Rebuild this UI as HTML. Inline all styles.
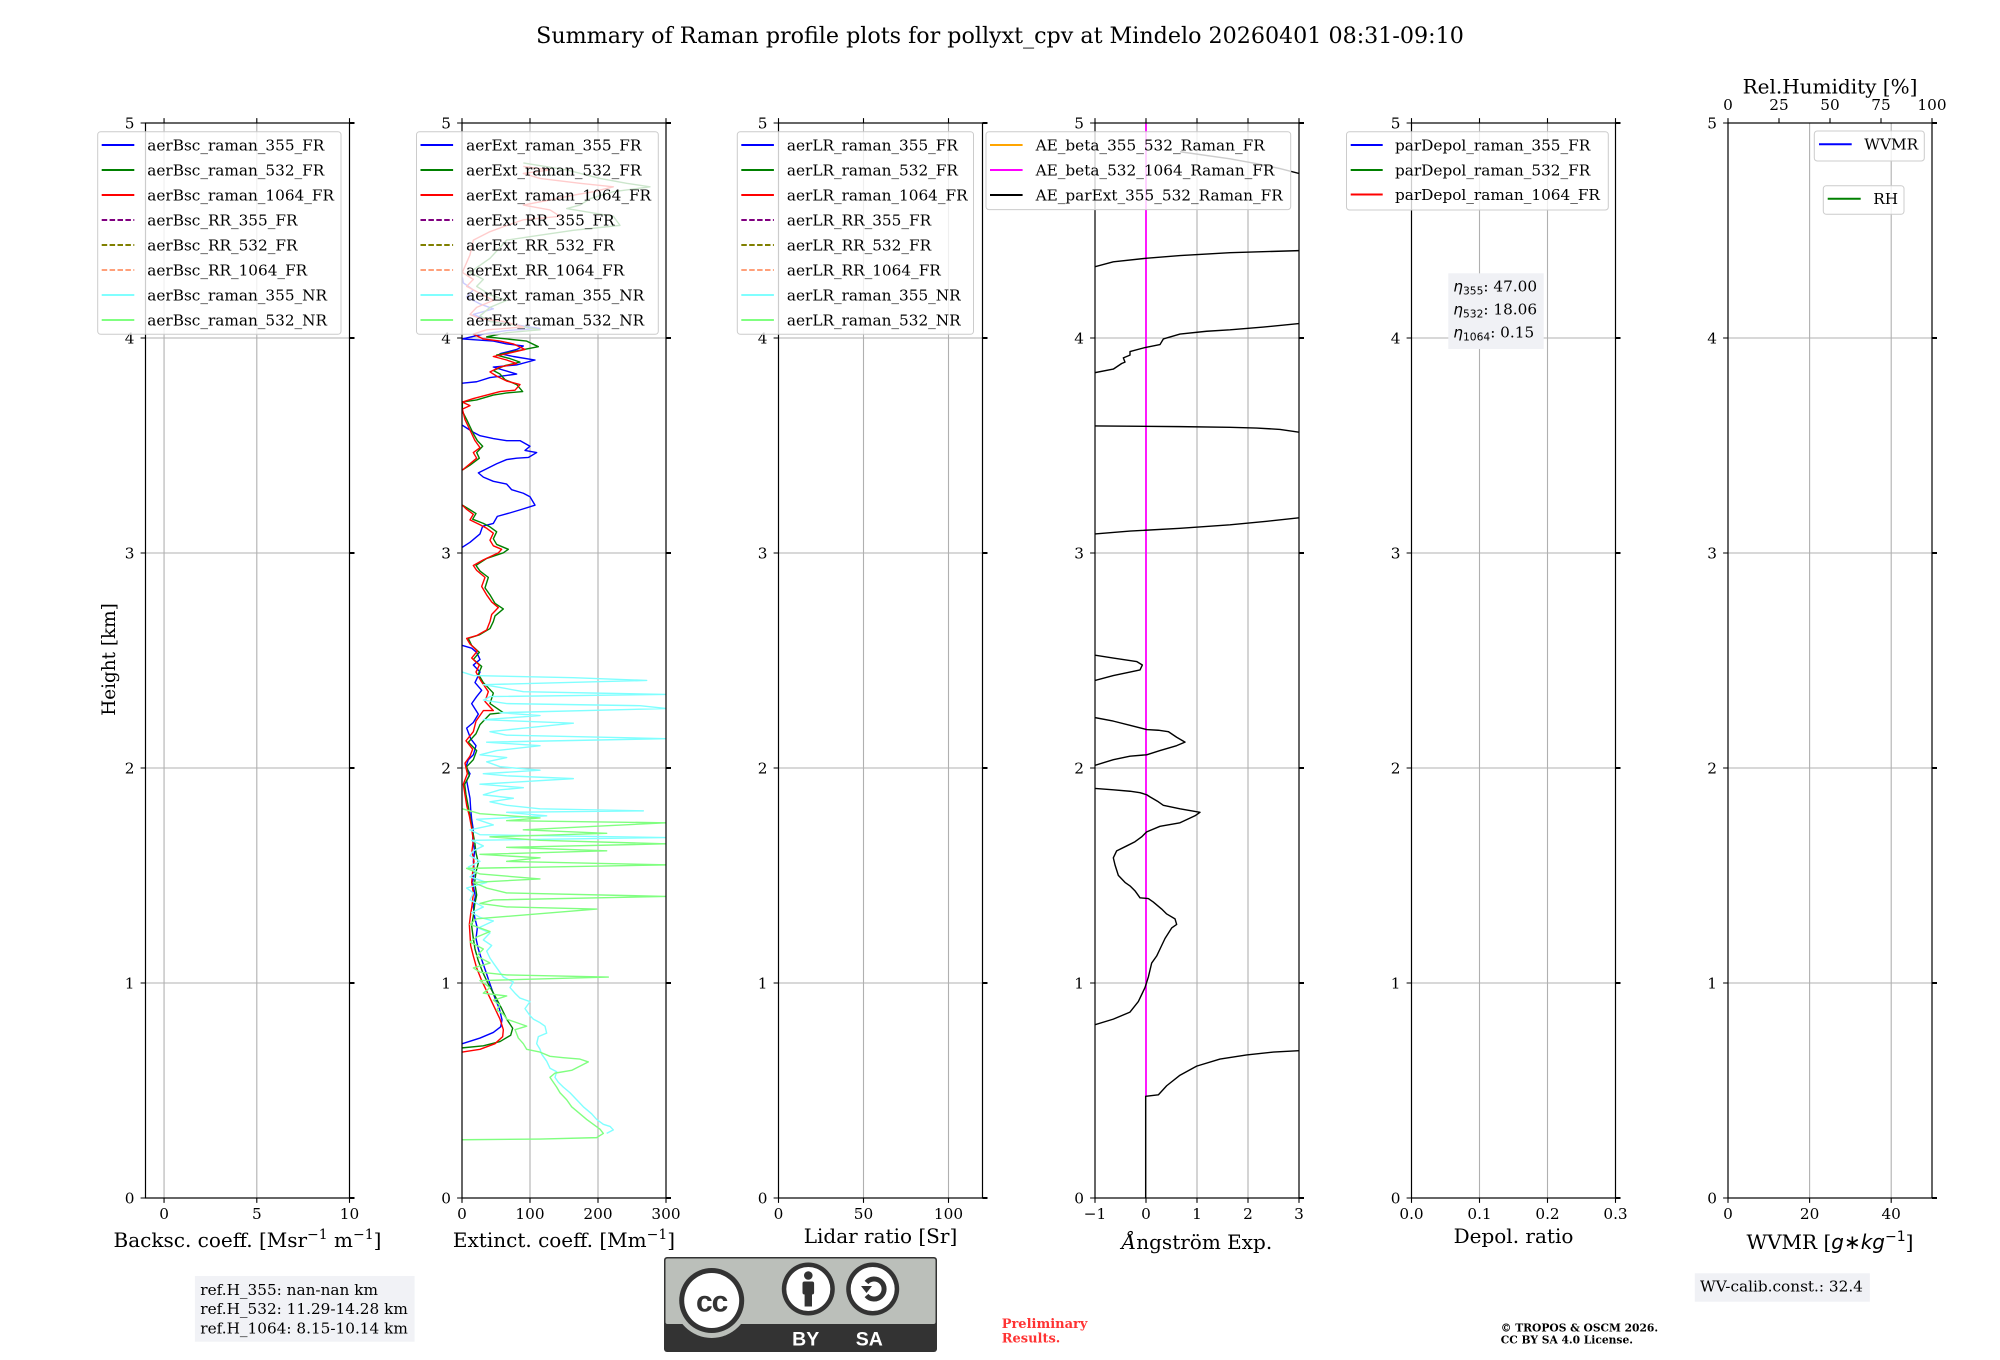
<!DOCTYPE html>
<html><head><meta charset="utf-8"><style>
html,body{margin:0;padding:0;background:#fff;}
svg{display:block;}
text{font-family:"DejaVu Serif","Liberation Serif",serif;fill:#000;}
.tk{font-size:15.28px;}
.lg{font-size:15.28px;}
.al{font-size:20px;}
</style></head><body>
<svg width="2000" height="1360" viewBox="0 0 2000 1360" xmlns="http://www.w3.org/2000/svg">
<defs>
<clipPath id="c1"><rect x="462" y="123" width="204" height="1075"/></clipPath>
<clipPath id="c3"><rect x="1095" y="123" width="204" height="1075"/></clipPath>
</defs>
<rect width="2000" height="1360" fill="#fff"/>
<text x="1000" y="43" text-anchor="middle" style="font-size:22.2px">Summary of Raman profile plots for pollyxt_cpv at Mindelo 20260401 08:31-09:10</text>

<!-- grids -->
<g stroke="#b0b0b0" stroke-width="1.1" fill="none">
<g transform="translate(145.5,0)"><path d="M0 983H204M0 768H204M0 553H204M0 338H204M18.55 123V1198M111.3 123V1198"/></g>
<g transform="translate(462,0)"><path d="M0 983H204M0 768H204M0 553H204M0 338H204M68 123V1198M136 123V1198"/></g>
<g transform="translate(778.5,0)"><path d="M0 983H204M0 768H204M0 553H204M0 338H204M85 123V1198M170 123V1198"/></g>
<g transform="translate(1095,0)"><path d="M0 983H204M0 768H204M0 553H204M0 338H204M51 123V1198M102 123V1198M153 123V1198"/></g>
<g transform="translate(1411.5,0)"><path d="M0 983H204M0 768H204M0 553H204M0 338H204M68 123V1198M136 123V1198"/></g>
<g transform="translate(1728,0)"><path d="M0 983H204M0 768H204M0 553H204M0 338H204M81.6 123V1198M163.2 123V1198"/></g>
</g>

<!-- panel 2 curves -->
<g clip-path="url(#c1)">
<g transform="translate(440,111.08) scale(0.333333,0.7012)" fill="none" stroke-width="1.4" stroke-linejoin="round">
<polyline vector-effect="non-scaling-stroke" stroke="#0000ff" points="67,1330 120,1322 160,1314 182,1306 186,1296 178,1280 165,1265 150,1245 138,1228 125,1210 115,1195 108,1180 112,1165 104,1150 100,1135 106,1120 98,1100 103,1085 100,1070 104,1055 98,1040 100,1025 95,1010 92,995 90,980 84,965 80,955 90,945 78,935 85,925 100,918 108,905 92,895 80,880 100,872 115,860 95,845 110,835 125,826 105,815 120,800 100,790 120,782 110,772 95,766 67,762"/>
<polyline vector-effect="non-scaling-stroke" stroke="#0000ff" points="67,622 90,615 120,603 128,592 160,588 172,578 210,573 245,568 285,562 270,550 250,545 215,540 200,532 160,528 130,522 115,516 140,510 170,503 200,497 230,495 265,494 290,487 255,484 270,478 240,470 200,470 160,467 120,463 100,458 80,452 67,448"/>
<polyline vector-effect="non-scaling-stroke" stroke="#0000ff" points="67,388 110,386 150,380 200,377 230,375 180,368 160,365 230,362 285,355 220,350 180,346 230,340 250,335 200,332 160,328 100,326 67,325 130,318 200,313 300,310 230,305 150,300 100,290 160,282 120,275 80,265 100,255 70,245 67,237"/>
<polyline vector-effect="non-scaling-stroke" stroke="#008000" points="67,1336 130,1333 180,1327 212,1318 218,1308 200,1295 185,1280 165,1262 145,1245 128,1228 115,1212 105,1195 100,1180 95,1162 100,1148 104,1132 110,1118 104,1100 108,1085 115,1072 108,1058 104,1042 97,1025 90,1005 84,990 78,975 74,960 88,948 80,935 100,925 110,912 85,900 108,888 120,875 150,860 190,858 150,845 160,830 130,815 115,803 125,792 100,782 118,772 95,762 85,752 118,747 150,738 160,728 165,720 190,710 165,702 150,690 135,680 145,665 120,656 108,648 140,638 190,630 205,625 170,618 160,610 170,600 150,593 130,588 98,582 108,574 88,568 67,562"/>
<polyline vector-effect="non-scaling-stroke" stroke="#008000" points="67,512 90,505 118,495 110,487 128,478 112,470 100,460 90,450 80,440 67,428 67,415 110,412 160,405 200,402 248,400 230,390 195,383 180,375 160,370 195,363 240,358 210,353 170,348 220,343 295,336 260,328 200,325 140,322 200,316 300,312 220,305 150,300 120,292 150,280 200,270 150,262 110,250 130,240 90,230 150,210 200,184 300,177 400,170 540,163 520,150 380,139 420,134 450,125 520,115 630,108 560,103 480,96 380,84 250,74"/>
<polyline vector-effect="non-scaling-stroke" stroke="#ff0000" points="67,1342 120,1338 165,1330 188,1320 190,1310 180,1295 160,1275 140,1255 125,1240 110,1222 100,1205 92,1190 90,1175 88,1160 92,1145 97,1130 100,1115 95,1100 98,1085 102,1070 96,1055 100,1040 94,1020 88,1005 80,990 75,975 70,960 82,945 75,930 90,920 98,910 78,898 100,885 108,870 130,855 160,855 135,842 145,828 122,812 108,800 118,790 95,780 112,770 90,760 80,752 110,748 140,740 150,728 155,718 175,708 155,700 140,690 125,678 135,665 110,655 100,648 130,640 175,630 185,625 160,620 150,612 160,602 140,595 120,590 90,583 100,575 80,568 67,562"/>
<polyline vector-effect="non-scaling-stroke" stroke="#ff0000" points="67,512 85,505 110,495 100,487 120,480 105,470 95,460 85,450 75,440 67,425 90,420 67,415 100,410 140,405 180,400 225,398 240,390 200,385 170,378 150,372 180,365 230,360 200,355 160,350 210,345 255,340 220,332 180,328 130,325 100,318 140,312 250,308 190,300 120,296 90,290 110,280 160,270 120,260 80,250 100,240 67,230 90,205 100,184 150,172 190,165 250,155 360,150 330,141 250,134 350,125 400,120 460,115 520,108 420,103 300,96 250,89 330,84 250,79"/>
<polyline vector-effect="non-scaling-stroke" stroke="#80ffff" points="500,1458 520,1453 510,1448 490,1445 470,1438 455,1430 430,1420 410,1410 390,1400 370,1392 355,1385 345,1378 350,1370 330,1365 320,1355 305,1345 300,1338 290,1330 295,1320 320,1315 315,1305 300,1300 280,1295 270,1290 255,1280 270,1270 240,1265 225,1258 210,1250 220,1242 190,1235 175,1225 160,1215 150,1208 140,1198 155,1190 130,1182 150,1172 115,1165 160,1155 120,1150 95,1143 130,1135 90,1125 100,1115 80,1108 140,1100 90,1092 110,1085 85,1078 120,1070 90,1062 100,1055 130,1048 95,1040 679,1036 120,1032 90,1025 160,1018 110,1010 320,1005 200,1000 610,998 300,995 200,990 150,985 220,980 130,975 180,968 250,965 120,960 400,952 200,948 130,945 300,940 180,935 140,928 200,922 120,918 170,912 300,905 140,900 680,895 200,890 150,885 250,880 400,873 130,868 300,862 180,858 679,852 600,848 200,845 130,840 150,835 679,832 250,828 180,822 130,818 620,812 400,808 100,805 67,800"/>
<polyline vector-effect="non-scaling-stroke" stroke="#80ff80" points="67,1467 300,1466 470,1464 490,1458 480,1452 460,1445 440,1438 420,1430 395,1420 380,1410 360,1400 350,1392 340,1385 330,1378 345,1372 395,1368 445,1356 420,1352 370,1350 330,1348 300,1342 260,1338 250,1330 235,1322 225,1310 260,1305 230,1300 200,1295 190,1288 170,1282 180,1275 160,1268 200,1262 130,1258 150,1250 120,1240 505,1235 200,1232 120,1228 100,1222 150,1215 110,1205 130,1195 90,1185 110,1178 150,1170 90,1160 110,1152 470,1138 200,1135 120,1130 160,1125 679,1120 200,1115 140,1108 100,1100 300,1095 120,1088 80,1080 679,1075 200,1070 300,1065 120,1060 500,1055 200,1050 679,1045 300,1040 150,1035 500,1030 250,1025 679,1015 200,1012 300,1008 120,1002 67,995"/>
</g></g>

<!-- panel 4 curves -->
<g clip-path="url(#c3)">
<line x1="1146" y1="123" x2="1146" y2="1096.3" stroke="#ff00ff" stroke-width="1.8"/>
<g transform="translate(1080,111.08) scale(0.333333,0.7012)" fill="none" stroke="#000" stroke-width="1.4" stroke-linejoin="round">
<polyline vector-effect="non-scaling-stroke" points="197,1550 197,1405 235,1403 260,1390 300,1375 350,1362 420,1352 500,1346 580,1342 657,1340"/>
<polyline vector-effect="non-scaling-stroke" points="45,1303 100,1295 150,1285 175,1270 195,1250 205,1235 215,1215 230,1205 245,1190 255,1180 275,1165 290,1160 285,1152 260,1145 245,1138 220,1128 205,1123 180,1122 165,1112 150,1105 135,1100 115,1090 105,1075 100,1065 110,1055 140,1048 165,1042 185,1035 200,1028 240,1020 300,1015 345,1005 360,1000 300,995 250,990 235,985 210,978 200,975 180,972 150,970 100,968 45,966"/>
<polyline vector-effect="non-scaling-stroke" points="45,933 100,925 150,920 200,918 240,912 290,905 315,900 290,893 265,885 235,883 200,882 150,876 100,870 45,865"/>
<polyline vector-effect="non-scaling-stroke" points="45,812 100,805 150,800 180,797 187,790 170,785 100,780 45,776"/>
<polyline vector-effect="non-scaling-stroke" points="45,603 150,599 300,595 450,590 560,585 657,580"/>
<polyline vector-effect="non-scaling-stroke" points="45,449 300,450 450,451 530,452 600,454 657,458"/>
<polyline vector-effect="non-scaling-stroke" points="45,373 100,368 125,360 135,358 130,352 150,348 150,343 197,337 240,333 250,325 300,318 380,314 450,312 550,308 657,303"/>
<polyline vector-effect="non-scaling-stroke" points="45,222 100,215 197,210 300,206 450,202 657,199"/>
<polyline vector-effect="non-scaling-stroke" points="300,58 450,68 530,75 600,82 657,89"/>
</g></g>

<!-- axes frames, ticks, labels -->
<g id="axes">
<g transform="translate(145.5,0)">
<rect x="0" y="123" width="204" height="1075" fill="none" stroke="#000" stroke-width="1.2"/>
<path d="M-4.9 123H0M-4.9 338H0M-4.9 553H0M-4.9 768H0M-4.9 983H0M-4.9 1198H0" stroke="#000" stroke-width="1.1"/>
<path d="M204 123h5M204 338h5M204 553h5M204 768h5M204 983h5M204 1198h5" stroke="#000" stroke-width="2"/>
<path d="M18.55 1198v4.9M111.3 1198v4.9M204 1198v4.9M18.55 123v-4.9M111.3 123v-4.9M204 123v-4.9" stroke="#000" stroke-width="1.1"/>
<g class="tk" text-anchor="end"><text x="-11" y="128.5">5</text><text x="-11" y="343.5">4</text><text x="-11" y="558.5">3</text><text x="-11" y="773.5">2</text><text x="-11" y="988.5">1</text><text x="-11" y="1203.5">0</text></g>
<g class="tk" text-anchor="middle"><text x="18.55" y="1219">0</text><text x="111.3" y="1219">5</text><text x="204" y="1219">10</text></g>
</g>
<g transform="translate(462,0)">
<rect x="0" y="123" width="204" height="1075" fill="none" stroke="#000" stroke-width="1.2"/>
<path d="M-4.9 123H0M-4.9 338H0M-4.9 553H0M-4.9 768H0M-4.9 983H0M-4.9 1198H0" stroke="#000" stroke-width="1.1"/>
<path d="M204 123h5M204 338h5M204 553h5M204 768h5M204 983h5M204 1198h5" stroke="#000" stroke-width="2"/>
<path d="M0 1198v4.9M68 1198v4.9M136 1198v4.9M204 1198v4.9M0 123v-4.9M68 123v-4.9M136 123v-4.9M204 123v-4.9" stroke="#000" stroke-width="1.1"/>
<g class="tk" text-anchor="end"><text x="-11" y="128.5">5</text><text x="-11" y="343.5">4</text><text x="-11" y="558.5">3</text><text x="-11" y="773.5">2</text><text x="-11" y="988.5">1</text><text x="-11" y="1203.5">0</text></g>
<g class="tk" text-anchor="middle"><text x="0" y="1219">0</text><text x="68" y="1219">100</text><text x="136" y="1219">200</text><text x="204" y="1219">300</text></g>
</g>
<g transform="translate(778.5,0)">
<rect x="0" y="123" width="204" height="1075" fill="none" stroke="#000" stroke-width="1.2"/>
<path d="M-4.9 123H0M-4.9 338H0M-4.9 553H0M-4.9 768H0M-4.9 983H0M-4.9 1198H0" stroke="#000" stroke-width="1.1"/>
<path d="M204 123h5M204 338h5M204 553h5M204 768h5M204 983h5M204 1198h5" stroke="#000" stroke-width="2"/>
<path d="M0 1198v4.9M85 1198v4.9M170 1198v4.9M0 123v-4.9M85 123v-4.9M170 123v-4.9" stroke="#000" stroke-width="1.1"/>
<g class="tk" text-anchor="end"><text x="-11" y="128.5">5</text><text x="-11" y="343.5">4</text><text x="-11" y="558.5">3</text><text x="-11" y="773.5">2</text><text x="-11" y="988.5">1</text><text x="-11" y="1203.5">0</text></g>
<g class="tk" text-anchor="middle"><text x="0" y="1219">0</text><text x="85" y="1219">50</text><text x="170" y="1219">100</text></g>
</g>
<g transform="translate(1095,0)">
<rect x="0" y="123" width="204" height="1075" fill="none" stroke="#000" stroke-width="1.2"/>
<path d="M-4.9 123H0M-4.9 338H0M-4.9 553H0M-4.9 768H0M-4.9 983H0M-4.9 1198H0" stroke="#000" stroke-width="1.1"/>
<path d="M204 123h5M204 338h5M204 553h5M204 768h5M204 983h5M204 1198h5" stroke="#000" stroke-width="2"/>
<path d="M0 1198v4.9M51 1198v4.9M102 1198v4.9M153 1198v4.9M204 1198v4.9M0 123v-4.9M51 123v-4.9M102 123v-4.9M153 123v-4.9M204 123v-4.9" stroke="#000" stroke-width="1.1"/>
<g class="tk" text-anchor="end"><text x="-11" y="128.5">5</text><text x="-11" y="343.5">4</text><text x="-11" y="558.5">3</text><text x="-11" y="773.5">2</text><text x="-11" y="988.5">1</text><text x="-11" y="1203.5">0</text></g>
<g class="tk" text-anchor="middle"><text x="0" y="1219">−1</text><text x="51" y="1219">0</text><text x="102" y="1219">1</text><text x="153" y="1219">2</text><text x="204" y="1219">3</text></g>
</g>
<g transform="translate(1411.5,0)">
<rect x="0" y="123" width="204" height="1075" fill="none" stroke="#000" stroke-width="1.2"/>
<path d="M-4.9 123H0M-4.9 338H0M-4.9 553H0M-4.9 768H0M-4.9 983H0M-4.9 1198H0" stroke="#000" stroke-width="1.1"/>
<path d="M204 123h5M204 338h5M204 553h5M204 768h5M204 983h5M204 1198h5" stroke="#000" stroke-width="2"/>
<path d="M0 1198v4.9M68 1198v4.9M136 1198v4.9M204 1198v4.9M0 123v-4.9M68 123v-4.9M136 123v-4.9M204 123v-4.9" stroke="#000" stroke-width="1.1"/>
<g class="tk" text-anchor="end"><text x="-11" y="128.5">5</text><text x="-11" y="343.5">4</text><text x="-11" y="558.5">3</text><text x="-11" y="773.5">2</text><text x="-11" y="988.5">1</text><text x="-11" y="1203.5">0</text></g>
<g class="tk" text-anchor="middle"><text x="0" y="1219">0.0</text><text x="68" y="1219">0.1</text><text x="136" y="1219">0.2</text><text x="204" y="1219">0.3</text></g>
</g>
<g transform="translate(1728,0)">
<rect x="0" y="123" width="204" height="1075" fill="none" stroke="#000" stroke-width="1.2"/>
<path d="M-4.9 123H0M-4.9 338H0M-4.9 553H0M-4.9 768H0M-4.9 983H0M-4.9 1198H0" stroke="#000" stroke-width="1.1"/>
<path d="M204 123h5M204 338h5M204 553h5M204 768h5M204 983h5M204 1198h5" stroke="#000" stroke-width="2"/>
<path d="M0 1198v4.9M81.6 1198v4.9M163.2 1198v4.9M0 123v-4.9M51 123v-4.9M102 123v-4.9M153 123v-4.9M204 123v-4.9" stroke="#000" stroke-width="1.1"/>
<g class="tk" text-anchor="end"><text x="-11" y="128.5">5</text><text x="-11" y="343.5">4</text><text x="-11" y="558.5">3</text><text x="-11" y="773.5">2</text><text x="-11" y="988.5">1</text><text x="-11" y="1203.5">0</text></g>
<g class="tk" text-anchor="middle"><text x="0" y="1219">0</text><text x="81.6" y="1219">20</text><text x="163.2" y="1219">40</text>
<text x="0" y="110">0</text><text x="51" y="110">25</text><text x="102" y="110">50</text><text x="153" y="110">75</text><text x="204" y="110">100</text></g>
<text x="102" y="93.3" text-anchor="middle" style="font-size:20px">Rel.Humidity [%]</text>
</g>
</g>

<!-- axis labels -->
<text x="115" y="659.5" transform="rotate(-90 115 659.5)" text-anchor="middle" style="font-size:18.4px">Height [km]</text>
<g class="al" text-anchor="middle">
<text x="247.5" y="1247">Backsc. coeff. [Msr<tspan dy="-8" style="font-size:14px">−1</tspan><tspan dy="8"> m</tspan><tspan dy="-8" style="font-size:14px">−1</tspan><tspan dy="8">]</tspan></text>
<text x="564" y="1247">Extinct. coeff. [Mm<tspan dy="-8" style="font-size:14px">−1</tspan><tspan dy="8">]</tspan></text>
<text x="880.5" y="1243">Lidar ratio [Sr]</text>
<text x="1197" y="1249"><tspan font-style="italic">Å</tspan>ngström Exp.</text>
<text x="1513.5" y="1243">Depol. ratio</text>
<text x="1830" y="1249">WVMR [<tspan style="font-family:'DejaVu Sans',sans-serif;font-style:italic">g∗kg</tspan><tspan dy="-8" style="font-size:14px;font-family:'DejaVu Sans',sans-serif">−1</tspan><tspan dy="8">]</tspan></text>
</g>

<!-- legends -->
<g class="lg">
<!-- P1 -->
<rect x="97.7" y="131.7" width="243.3" height="202.6" rx="3" fill="#fff" fill-opacity="0.8" stroke="#cccccc" stroke-width="1"/>
<g stroke-width="2" fill="none">
<line x1="101.7" x2="134.3" y1="145" y2="145" stroke="#0000ff"/>
<line x1="101.7" x2="134.3" y1="170" y2="170" stroke="#008000"/>
<line x1="101.7" x2="134.3" y1="195" y2="195" stroke="#ff0000"/>
<line x1="101.7" x2="134.3" y1="220" y2="220" stroke="#800080" stroke-dasharray="5.5,2.4"/>
<line x1="101.7" x2="134.3" y1="245" y2="245" stroke="#808000" stroke-dasharray="5.5,2.4"/>
<line x1="101.7" x2="134.3" y1="270" y2="270" stroke="#ffa07a" stroke-dasharray="5.5,2.4"/>
<line x1="101.7" x2="134.3" y1="295" y2="295" stroke="#80ffff"/>
<line x1="101.7" x2="134.3" y1="320" y2="320" stroke="#80ff80"/>
</g>
<text x="147.3" y="150.4">aerBsc_raman_355_FR</text>
<text x="147.3" y="175.4">aerBsc_raman_532_FR</text>
<text x="147.3" y="200.4">aerBsc_raman_1064_FR</text>
<text x="147.3" y="225.4">aerBsc_RR_355_FR</text>
<text x="147.3" y="250.4">aerBsc_RR_532_FR</text>
<text x="147.3" y="275.4">aerBsc_RR_1064_FR</text>
<text x="147.3" y="300.4">aerBsc_raman_355_NR</text>
<text x="147.3" y="325.4">aerBsc_raman_532_NR</text>
<!-- P2 -->
<rect x="416.5" y="131.7" width="241.8" height="202.6" rx="3" fill="#fff" fill-opacity="0.8" stroke="#cccccc" stroke-width="1"/>
<g stroke-width="2" fill="none">
<line x1="420.5" x2="453.1" y1="145" y2="145" stroke="#0000ff"/>
<line x1="420.5" x2="453.1" y1="170" y2="170" stroke="#008000"/>
<line x1="420.5" x2="453.1" y1="195" y2="195" stroke="#ff0000"/>
<line x1="420.5" x2="453.1" y1="220" y2="220" stroke="#800080" stroke-dasharray="5.5,2.4"/>
<line x1="420.5" x2="453.1" y1="245" y2="245" stroke="#808000" stroke-dasharray="5.5,2.4"/>
<line x1="420.5" x2="453.1" y1="270" y2="270" stroke="#ffa07a" stroke-dasharray="5.5,2.4"/>
<line x1="420.5" x2="453.1" y1="295" y2="295" stroke="#80ffff"/>
<line x1="420.5" x2="453.1" y1="320" y2="320" stroke="#80ff80"/>
</g>
<text x="466.1" y="150.4">aerExt_raman_355_FR</text>
<text x="466.1" y="175.4">aerExt_raman_532_FR</text>
<text x="466.1" y="200.4">aerExt_raman_1064_FR</text>
<text x="466.1" y="225.4">aerExt_RR_355_FR</text>
<text x="466.1" y="250.4">aerExt_RR_532_FR</text>
<text x="466.1" y="275.4">aerExt_RR_1064_FR</text>
<text x="466.1" y="300.4">aerExt_raman_355_NR</text>
<text x="466.1" y="325.4">aerExt_raman_532_NR</text>
<!-- P3 -->
<rect x="737.3" y="131.7" width="236.2" height="202.6" rx="3" fill="#fff" fill-opacity="0.8" stroke="#cccccc" stroke-width="1"/>
<g stroke-width="2" fill="none">
<line x1="741.3" x2="773.9" y1="145" y2="145" stroke="#0000ff"/>
<line x1="741.3" x2="773.9" y1="170" y2="170" stroke="#008000"/>
<line x1="741.3" x2="773.9" y1="195" y2="195" stroke="#ff0000"/>
<line x1="741.3" x2="773.9" y1="220" y2="220" stroke="#800080" stroke-dasharray="5.5,2.4"/>
<line x1="741.3" x2="773.9" y1="245" y2="245" stroke="#808000" stroke-dasharray="5.5,2.4"/>
<line x1="741.3" x2="773.9" y1="270" y2="270" stroke="#ffa07a" stroke-dasharray="5.5,2.4"/>
<line x1="741.3" x2="773.9" y1="295" y2="295" stroke="#80ffff"/>
<line x1="741.3" x2="773.9" y1="320" y2="320" stroke="#80ff80"/>
</g>
<text x="786.9" y="150.4">aerLR_raman_355_FR</text>
<text x="786.9" y="175.4">aerLR_raman_532_FR</text>
<text x="786.9" y="200.4">aerLR_raman_1064_FR</text>
<text x="786.9" y="225.4">aerLR_RR_355_FR</text>
<text x="786.9" y="250.4">aerLR_RR_532_FR</text>
<text x="786.9" y="275.4">aerLR_RR_1064_FR</text>
<text x="786.9" y="300.4">aerLR_raman_355_NR</text>
<text x="786.9" y="325.4">aerLR_raman_532_NR</text>
<!-- P4 -->
<rect x="986" y="131.7" width="304.7" height="77.9" rx="3" fill="#fff" fill-opacity="0.8" stroke="#cccccc" stroke-width="1"/>
<g stroke-width="2" fill="none">
<line x1="990" x2="1022.6" y1="145" y2="145" stroke="#ffa500"/>
<line x1="990" x2="1022.6" y1="170" y2="170" stroke="#ff00ff"/>
<line x1="990" x2="1022.6" y1="195" y2="195" stroke="#000000"/>
</g>
<text x="1035.6" y="150.4">AE_beta_355_532_Raman_FR</text>
<text x="1035.6" y="175.4">AE_beta_532_1064_Raman_FR</text>
<text x="1035.6" y="200.4">AE_parExt_355_532_Raman_FR</text>
<!-- P5 -->
<rect x="1346.5" y="131.7" width="261.8" height="78.3" rx="3" fill="#fff" fill-opacity="0.8" stroke="#cccccc" stroke-width="1"/>
<g stroke-width="2" fill="none">
<line x1="1350.7" x2="1382.7" y1="145" y2="145" stroke="#0000ff"/>
<line x1="1350.7" x2="1382.7" y1="170" y2="170" stroke="#008000"/>
<line x1="1350.7" x2="1382.7" y1="194.5" y2="194.5" stroke="#ff0000"/>
</g>
<text x="1395" y="150.4">parDepol_raman_355_FR</text>
<text x="1395" y="175.4">parDepol_raman_532_FR</text>
<text x="1395" y="199.9">parDepol_raman_1064_FR</text>
<!-- P6 -->
<rect x="1814.3" y="131" width="110" height="30" rx="3" fill="#fff" fill-opacity="0.8" stroke="#cccccc" stroke-width="1"/>
<line x1="1819" x2="1851.7" y1="144.3" y2="144.3" stroke="#0000ff" stroke-width="2"/>
<text x="1864.3" y="149.7">WVMR</text>
<rect x="1823.3" y="185.7" width="80.7" height="28.6" rx="3" fill="#fff" fill-opacity="0.8" stroke="#cccccc" stroke-width="1"/>
<line x1="1827.7" x2="1860.7" y1="198.7" y2="198.7" stroke="#008000" stroke-width="2"/>
<text x="1873.3" y="204.1">RH</text>
</g>

<!-- eta box -->
<rect x="1448.3" y="273.3" width="95.4" height="75.7" fill="#f0f1f5"/>
<g style="font-size:15.28px">
<text x="1453.3" y="291.7"><tspan style="font-family:'DejaVu Sans',sans-serif;font-style:italic">η</tspan><tspan dy="3" style="font-family:'DejaVu Sans',sans-serif;font-size:10.7px">355</tspan><tspan dy="-3">: 47.00</tspan></text>
<text x="1453.3" y="314.5"><tspan style="font-family:'DejaVu Sans',sans-serif;font-style:italic">η</tspan><tspan dy="3" style="font-family:'DejaVu Sans',sans-serif;font-size:10.7px">532</tspan><tspan dy="-3">: 18.06</tspan></text>
<text x="1453.3" y="337.3"><tspan style="font-family:'DejaVu Sans',sans-serif;font-style:italic">η</tspan><tspan dy="3" style="font-family:'DejaVu Sans',sans-serif;font-size:10.7px">1064</tspan><tspan dy="-3">: 0.15</tspan></text>
</g>

<!-- ref box -->
<rect x="194.9" y="1276" width="219.7" height="65.7" fill="#f1f2f6"/>
<g style="font-size:15.28px">
<text x="200.3" y="1295">ref.H_355: nan-nan km</text>
<text x="200.3" y="1314">ref.H_532: 11.29-14.28 km</text>
<text x="200.3" y="1333.3">ref.H_1064: 8.15-10.14 km</text>
</g>

<!-- WV calib -->
<rect x="1694.8" y="1273.3" width="175.1" height="28.4" fill="#f0f1f5"/>
<text x="1700" y="1291.7" style="font-size:15.28px">WV-calib.const.: 32.4</text>

<!-- preliminary -->
<g style="font-size:13px;font-weight:bold">
<text x="1001.7" y="1328" style="fill:#ff3333">Preliminary</text>
<text x="1001.7" y="1342.7" style="fill:#ff3333">Results.</text>
</g>

<!-- copyright -->
<g style="font-size:10.7px;font-weight:bold">
<text x="1500.8" y="1331.7">© TROPOS &amp; OSCM 2026.</text>
<text x="1500.8" y="1343.3">CC BY SA 4.0 License.</text>
</g>

<!-- CC logo -->
<g>
<rect x="664" y="1257" width="273" height="95" rx="3" fill="#333333"/>
<rect x="665.5" y="1258.5" width="270" height="65.5" rx="2" fill="#bbbfba"/>
<circle cx="711.7" cy="1300.5" r="37.5" fill="#bbbfba"/>
<circle cx="711.7" cy="1300.5" r="32.5" fill="#333333"/>
<circle cx="711.7" cy="1300.5" r="27.5" fill="#ffffff"/>
<text x="711.7" y="1311.5" text-anchor="middle" style="font-family:'Liberation Sans',sans-serif;font-weight:bold;font-size:30px;fill:#333333;letter-spacing:-1px">cc</text>
<circle cx="808.3" cy="1289" r="26.5" fill="#333333"/>
<circle cx="808.3" cy="1289" r="22" fill="#ffffff"/>
<circle cx="808.3" cy="1275.5" r="4.3" fill="#333333"/>
<rect x="802.5" y="1281.5" width="11.6" height="13" rx="2" fill="#333333"/>
<rect x="804.6" y="1292" width="7.4" height="14.5" fill="#333333"/>
<circle cx="872.7" cy="1289" r="26.5" fill="#333333"/>
<circle cx="872.7" cy="1289" r="22" fill="#ffffff"/>
<path d="M866.5 1282.5 A10 10 0 1 1 866.5 1295.5" fill="none" stroke="#333333" stroke-width="5"/>
<path d="M861 1286 L866.5 1293 L872 1286 Z" fill="#333333"/>
<text x="805.7" y="1345.5" text-anchor="middle" style="font-family:'Liberation Sans',sans-serif;font-weight:bold;font-size:19.5px;fill:#ffffff">BY</text>
<text x="869.3" y="1345.5" text-anchor="middle" style="font-family:'Liberation Sans',sans-serif;font-weight:bold;font-size:19.5px;fill:#ffffff">SA</text>
</g>
</svg>
</body></html>
